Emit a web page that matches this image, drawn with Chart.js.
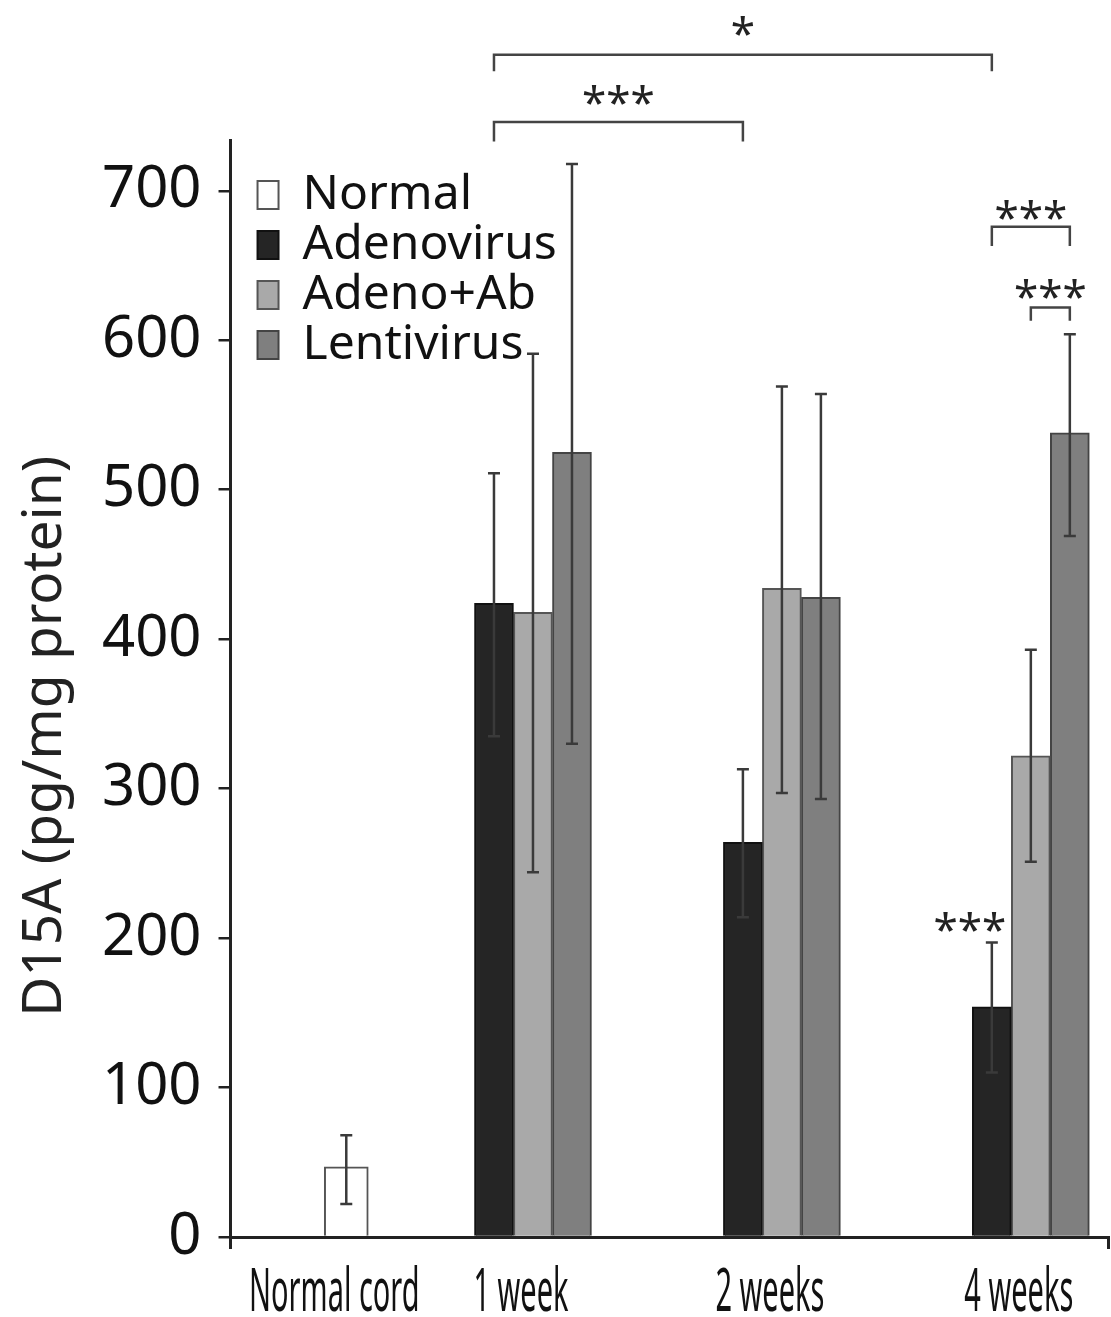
<!DOCTYPE html>
<html>
<head>
<meta charset="utf-8">
<script src="https://cdn.jsdelivr.net/npm/chart.js@4.4.0/dist/chart.umd.min.js"></script>
<style>
  html, body { margin: 0; padding: 0; background: #fff; }
</style>
</head>
<body>
<canvas id="chart" width="1111" height="1317"></canvas>
<script>
// data
var categories = ["Normal cord", "1 week", "2 weeks", "4 weeks"];
var seriesNames = ["Normal", "Adenovirus", "Adeno+Ab", "Lentivirus"];
var yTitle = "D15A (pg/mg protein)";

var normalVals  = [47, null, null, null];
var adenoVals   = [null, 424, 264, 154];
var adenoAbVals = [null, 418, 434, 322];
var lentiVals   = [null, 525, 428, 538];

// error bars as [low, high]
var normalErr  = [[22, 68], null, null, null];
var adenoErr   = [null, [335, 511], [214, 313], [110, 197]];
var adenoAbErr = [null, [244, 591], [297, 569], [251, 393]];
var lentiErr   = [null, [330, 718], [293, 564], [469, 604]];

var yTicks = [0, 100, 200, 300, 400, 500, 600, 700];

// significance brackets: [dataset, category] at each end, bracket level, leg end, star text, text level
var sigBrackets = [
  { a: [1, 1], b: [1, 3], y: 791, leg: 780, text: "*",   textY: 810 },
  { a: [1, 1], b: [1, 2], y: 746, leg: 733, text: "***", textY: 764 },
  { a: [1, 3], b: [3, 3], y: 676, leg: 663, text: "***", textY: 687 },
  { a: [2, 3], b: [3, 3], y: 622, leg: 613, text: "***", textY: 634 }
];
var sigMarks = [{ ds: 1, idx: 3, textY: 211, text: "***" }];

// layout
var slotPos = [0.25, 1, 2, 3];
var FONT = '"Noto Sans", "Open Sans", sans-serif';

function toPoints(vals) {
  return vals.map(function (v, i) { return { x: slotPos[i], y: v }; });
}

var errSets = [normalErr, adenoErr, adenoAbErr, lentiErr];

var errorBars = {
  id: "errorBars",
  afterDatasetsDraw: function (chart) {
    var ctx = chart.ctx, ys = chart.scales.y;
    ctx.save();
    ctx.strokeStyle = "#3a3a3a";
    ctx.lineWidth = 2.5;
    errSets.forEach(function (errs, di) {
      var meta = chart.getDatasetMeta(di);
      errs.forEach(function (e, i) {
        if (!e) return;
        var x = meta.data[i].x;
        var lo = ys.getPixelForValue(e[0]), hi = ys.getPixelForValue(e[1]);
        ctx.beginPath();
        ctx.moveTo(x, lo); ctx.lineTo(x, hi);
        ctx.moveTo(x - 6, lo); ctx.lineTo(x + 6, lo);
        ctx.moveTo(x - 6, hi); ctx.lineTo(x + 6, hi);
        ctx.stroke();
      });
    });
    ctx.restore();
  }
};

function starText(ctx, text, x, yPix) {
  ctx.font = "44px " + FONT;
  ctx.textAlign = "center";
  ctx.textBaseline = "alphabetic";
  ctx.fillText(text, x, yPix + 23);
}

var significance = {
  id: "significance",
  afterDraw: function (chart) {
    var ctx = chart.ctx, ys = chart.scales.y;
    ctx.save();
    ctx.strokeStyle = "#444";
    ctx.fillStyle = "#222";
    ctx.lineWidth = 2.5;
    sigBrackets.forEach(function (b) {
      var x1 = chart.getDatasetMeta(b.a[0]).data[b.a[1]].x;
      var x2 = chart.getDatasetMeta(b.b[0]).data[b.b[1]].x;
      var y = ys.getPixelForValue(b.y), yl = ys.getPixelForValue(b.leg);
      ctx.beginPath();
      ctx.moveTo(x1, yl); ctx.lineTo(x1, y); ctx.lineTo(x2, y); ctx.lineTo(x2, yl);
      ctx.stroke();
      starText(ctx, b.text, (x1 + x2) / 2, ys.getPixelForValue(b.textY));
    });
    sigMarks.forEach(function (m) {
      var bar = chart.getDatasetMeta(m.ds).data[m.idx];
      starText(ctx, m.text, bar.x - 22, ys.getPixelForValue(m.textY));
    });
    ctx.restore();
  }
};

// condensed category labels under the x axis
var xLabels = {
  id: "xLabels",
  afterDraw: function (chart) {
    var ctx = chart.ctx, xs = chart.scales.x;
    ctx.save();
    ctx.font = "61px " + FONT;
    ctx.fillStyle = "#111";
    ctx.textAlign = "center";
    ctx.textBaseline = "alphabetic";
    categories.forEach(function (c, i) {
      var px = xs.getPixelForValue(slotPos[i]) - 12;
      ctx.save();
      ctx.translate(px, xs.bottom + 62);
      ctx.scale(0.475, 1);
      ctx.fillText(c, 0, 0);
      ctx.restore();
    });
    ctx.restore();
  }
};

// y axis title, sitting a little below the axis middle as in the figure
var yTitlePlugin = {
  id: "yTitlePlugin",
  afterDraw: function (chart) {
    var ctx = chart.ctx, ys = chart.scales.y;
    ctx.save();
    ctx.translate(45, ys.getPixelForValue(335));
    ctx.rotate(-Math.PI / 2);
    ctx.font = "55px " + FONT;
    ctx.fillStyle = "#222";
    ctx.textAlign = "center";
    ctx.textBaseline = "middle";
    ctx.fillText(yTitle, 0, 0);
    ctx.restore();
  }
};

// put the legend in the upper left of the plot
var legendPlace = {
  id: "legendPlace",
  afterLayout: function (chart) {
    var lg = chart.legend, a = chart.chartArea;
    if (!lg) return;
    lg.left = a.left + 25;
    lg.top = a.top + 29;
    lg.right = a.right;
    lg.bottom = a.bottom;
  }
};

var ctx = document.getElementById("chart").getContext("2d");
var chart = new Chart(ctx, {
  type: "bar",
  data: {
    datasets: [
      { label: seriesNames[0], data: toPoints(normalVals), backgroundColor: "#ffffff", borderColor: "#555", borderWidth: 2, barThickness: 44, skipNull: true },
      { label: seriesNames[1], data: toPoints(adenoVals), backgroundColor: "#252525", borderColor: "#111", borderWidth: 2, barThickness: 39, skipNull: true },
      { label: seriesNames[2], data: toPoints(adenoAbVals), backgroundColor: "#a9a9a9", borderColor: "#555", borderWidth: 2, barThickness: 39, skipNull: true },
      { label: seriesNames[3], data: toPoints(lentiVals), backgroundColor: "#7f7f7f", borderColor: "#444", borderWidth: 2, barThickness: 39, skipNull: true }
    ]
  },
  options: {
    responsive: false,
    animation: false,
    layout: { padding: { top: 140, right: 3, bottom: 68, left: 85 } },
    scales: {
      x: {
        type: "linear",
        offset: false,
        min: -0.215,
        max: 3.31,
        afterBuildTicks: function (s) { s.ticks = [{ value: s.min }, { value: s.max }]; },
        ticks: { display: false },
        grid: { offset: false, drawOnChartArea: false, drawTicks: true, tickLength: 12, color: "#222", lineWidth: 3 },
        border: { display: true, color: "#222", width: 3 }
      },
      y: {
        min: 0,
        max: 734,
        afterBuildTicks: function (s) { s.ticks = yTicks.map(function (v) { return { value: v }; }); },
        ticks: { font: { family: FONT, size: 58 }, color: "#111", padding: 17 },
        grid: { drawOnChartArea: false, tickLength: 12, color: "#222", lineWidth: 2.5 },
        border: { display: true, color: "#222", width: 3 }
      }
    },
    plugins: {
      legend: {
        position: "chartArea",
        align: "start",
        labels: { boxWidth: 21, boxHeight: 28, padding: 2, color: "#111", font: { family: FONT, size: 48 } }
      },
      tooltip: { enabled: false }
    }
  },
  plugins: [errorBars, significance, xLabels, yTitlePlugin, legendPlace]
});
</script>
</body>
</html>
